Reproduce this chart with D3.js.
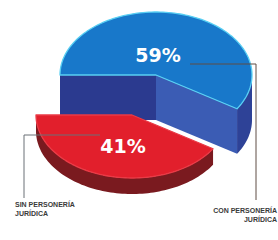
<!DOCTYPE html>
<html>
<head>
<meta charset="utf-8">
<script src="https://cdn.jsdelivr.net/npm/d3@7"></script>
<style>
  html, body { margin: 0; padding: 0; background: #ffffff; }
  svg { display: block; }
</style>
</head>
<body>
<div class="vis-holder"></div>
<script>
// the chart's data
var categories = ["CON PERSONERÍA JURÍDICA", "SIN PERSONERÍA JURÍDICA"];
var values = [59, 41];
var labelLines = [["CON PERSONERÍA", "JURÍDICA"], ["SIN PERSONERÍA", "JURÍDICA"]];

var mydata = categories.map(function(c, i) {
	return { name: c, value: values[i], lines: labelLines[i] };
});

// svg size
var width = 278;
var height = 240;

// pie layout (centre of the blue top face, ellipse radii)
var cx = 156, cy = 75, rx = 96, ry = 63;

// look of each slice: extrusion depth, pull-out offset and colours
var looks = [
	{ depth: 45, dx: 0, dy: 0, top: "#1878ca", stroke: "#58cff3",
	  cutStart: "#2b3a8f", cutEnd: "#3b5cb4", side: "#2e4297" },
	{ depth: 16, dx: -24, dy: 40, top: "#e21f2c", stroke: "#ea3a46",
	  cutStart: "#7c1b20", cutEnd: "#7c1b20", side: "#7a1a1f" }
];

var svg = d3.select(".vis-holder")
			.append("svg")
			.attr("width", width)
			.attr("height", height);

// d3.pie angles start at 12 o'clock; start the blue slice at 9 o'clock
var pie = d3.pie()
			.sort(null)
			.value(function(d) { return d.value; })
			.startAngle(1.5 * Math.PI)
			.endAngle(3.5 * Math.PI);

var arcs = pie(mydata);

var line = d3.line();

// project an angle (screen, from +x, clockwise) onto the tilted ellipse
function pt(theta, ox, oy, dz) {
	return [ox + rx * Math.cos(theta), oy + ry * Math.sin(theta) + dz];
}

function arcPoints(t0, t1, ox, oy, dz) {
	var n = Math.max(2, Math.ceil(Math.abs(t1 - t0) / 0.03));
	var pts = [];
	for (var i = 0; i <= n; i++) {
		pts.push(pt(t0 + (t1 - t0) * i / n, ox, oy, dz));
	}
	return pts;
}

arcs.forEach(function(a, i) {
	var look = looks[i];
	var ox = cx + look.dx, oy = cy + look.dy, h = look.depth;
	var t0 = a.startAngle - Math.PI / 2;
	var t1 = a.endAngle - Math.PI / 2;
	var g = svg.append("g").attr("class", "slice");

	// cut faces (only the ones turned towards the viewer)
	if (Math.cos(t0) < 0) {
		var p = pt(t0, ox, oy, 0);
		g.append("path")
		 .attr("d", line([[ox, oy], p, [p[0], p[1] + h], [ox, oy + h]]) + "Z")
		 .attr("fill", look.cutStart);
	}
	if (Math.cos(t1) > 0) {
		var q = pt(t1, ox, oy, 0);
		g.append("path")
		 .attr("d", line([[ox, oy], q, [q[0], q[1] + h], [ox, oy + h]]) + "Z")
		 .attr("fill", look.cutEnd);
	}

	// outer wall: the part of the rim on the front half of the ellipse
	for (var k = -1; k <= 2; k++) {
		var s = Math.max(t0, 2 * Math.PI * k);
		var e = Math.min(t1, 2 * Math.PI * k + Math.PI);
		if (e > s) {
			var topRim = arcPoints(s, e, ox, oy, 0);
			var botRim = arcPoints(e, s, ox, oy, h);
			g.append("path")
			 .attr("d", line(topRim.concat(botRim)) + "Z")
			 .attr("fill", look.side);
		}
	}

	// top face
	var topFace = [[ox, oy]].concat(arcPoints(t0, t1, ox, oy, 0));
	g.append("path")
	 .attr("d", line(topFace) + "Z")
	 .attr("fill", look.top)
	 .attr("stroke", look.stroke)
	 .attr("stroke-width", 1.3)
	 .attr("stroke-linejoin", "round");
});

// percentage labels
var pctFont = "'DejaVu Sans', sans-serif";
var pctPos = [[cx + 2, cy - 13], [cx - 33, cy + 78]];
arcs.forEach(function(a, i) {
	svg.append("text")
	   .attr("x", pctPos[i][0])
	   .attr("y", pctPos[i][1])
	   .attr("text-anchor", "middle")
	   .attr("font-family", pctFont)
	   .attr("font-weight", "bold")
	   .attr("font-size", 19)
	   .attr("fill", "#ffffff")
	   .text(a.data.value + "%");
});

// leader lines
svg.append("path")
   .attr("d", line([[cx + 34, cy - 11], [cx + 100, cy - 11], [cx + 100, 200]]))
   .attr("fill", "none")
   .attr("stroke", "#5e4c44")
   .attr("stroke-width", 1);

svg.append("path")
   .attr("d", line([[cx - 56, cy + 60], [24, cy + 60], [24, 198]]))
   .attr("fill", "none")
   .attr("stroke", "#6a7077")
   .attr("stroke-width", 1);

// category labels under the pie
var catPos = [{ x: 277, y: 213, anchor: "end" }, { x: 15, y: 207, anchor: "start" }];
arcs.forEach(function(a, i) {
	var t = svg.append("text")
			   .attr("x", catPos[i].x)
			   .attr("y", catPos[i].y)
			   .attr("text-anchor", catPos[i].anchor)
			   .attr("font-family", "'Liberation Sans', Arial, sans-serif")
			   .attr("font-weight", "bold")
			   .attr("font-size", 7)
			   .attr("fill", "#3a3a3a");
	a.data.lines.forEach(function(l, j) {
		t.append("tspan")
		 .attr("x", catPos[i].x)
		 .attr("dy", j === 0 ? 0 : 8.5)
		 .text(l);
	});
});
</script>
</body>
</html>
